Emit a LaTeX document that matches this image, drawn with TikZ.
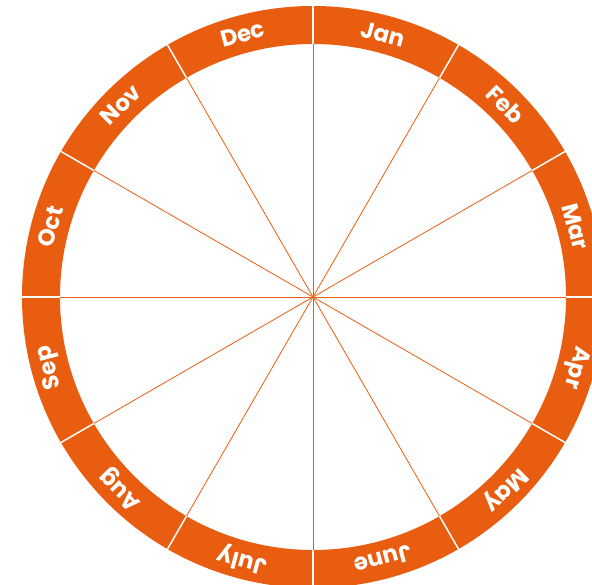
\documentclass[tikz,border=0pt]{standalone}
\usepackage{fontspec}
\setsansfont{Poppins}
\usepackage{xcolor}
\definecolor{ringorange}{HTML}{E85D0F}

\begin{document}
\begin{tikzpicture}[
  x=1pt, y=1pt,
  ring/.style={fill=ringorange, even odd rule},
  spoke/.style={draw=ringorange, line width=0.8pt},
  gap/.style={draw=white, line width=1.5pt},
  month/.style={font=\sffamily\bfseries\fontsize{23}{23}\selectfont, text=white, inner sep=0pt}
]
\useasboundingbox (-313,-288) rectangle (279,297);
\coordinate (c) at (0,0);
\fill[ring] (c) circle (291) (c) circle (253);

% spokes and ring gaps
\foreach \a in {0,30,...,330} {
  \coordinate (in\a) at (\a:253);
  \coordinate (out\a) at (\a:292);
  \draw[spoke] (c) -- (in\a);
  \draw[gap] (in\a) -- (out\a);
}

% month labels
\foreach \m/\a in {Jan/75, Feb/45, Mar/15, Apr/-15, May/-45, June/-75,
                   July/-105, Aug/-135, Sep/-165, Oct/165, Nov/135, Dec/105}
  \node[month, rotate=\a-90] (\m) at (\a:272) {\m};

\end{tikzpicture}
\end{document}
